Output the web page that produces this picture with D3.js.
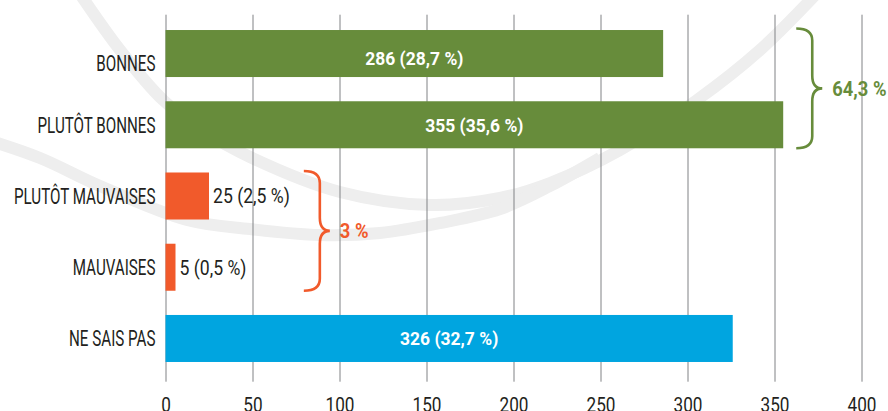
<!DOCTYPE html>
<html lang="fr">
<head>
<meta charset="utf-8">
<script src="https://cdn.jsdelivr.net/npm/d3@7"></script>
<style>
  html, body { margin: 0; padding: 0; background: #fff; }
  svg { display: block; font-family: Roboto, "Liberation Sans", sans-serif; }
</style>
</head>
<body>
<div id="chart"></div>
<script>
// data
const categories = ["BONNES", "PLUTÔT BONNES", "PLUTÔT MAUVAISES", "MAUVAISES", "NE SAIS PAS"];
const counts = [286, 355, 25, 5, 326];
const shares = ["28,7", "35,6", "2,5", "0,5", "32,7"];
const tones = ["positive", "positive", "negative", "negative", "neutral"];
const xTicks = [0, 50, 100, 150, 200, 250, 300, 350, 400];
const groupLabels = ["64,3 %", "3 %"];
const groupTones = ["positive", "negative"];
const groupMembers = [["BONNES", "PLUTÔT BONNES"], ["PLUTÔT MAUVAISES", "MAUVAISES"]];

const W = 888, H = 411;
const colors = { positive: "#678c3b", negative: "#f15a2b", neutral: "#00a5e0" };
const ink = "#231f20";
// the source squeezes its type horizontally (condensed face)
const squeezeLetters = 0.69, squeezeNumbers = 0.86, squeezeBold = 0.92;
// where each brace sits, in data units
const braceAt = { "64,3 %": 362.5, "3 %": 79.5 };
// the BONNES row label sits a little low in the source
const nudge = { "BONNES": { label: 10, value: 5 } };

const rows = categories.map((c, i) => ({ cat: c, count: counts[i], share: shares[i], tone: tones[i] }));

const svg = d3.select("#chart").append("svg")
  .attr("width", W)
  .attr("height", H);

// background watermark arcs
const arcB = [[76, -12], [120, 50], [163, 100], [205, 132], [250, 157], [340, 192], [430, 205],
  [500, 198], [550, 183], [620, 150], [697, 100], [760, 50], [818, -8]];
const arcA = [[-12, 140], [40, 158], [100, 186], [187, 220], [250, 229], [320, 235], [380, 233],
  [440, 223], [500, 209], [550, 186], [600, 158]];
const wm = d3.line().curve(d3.curveCatmullRom.alpha(0.5));
[arcB, arcA].forEach((pts) => {
  svg.append("path")
    .attr("d", wm(pts))
    .attr("fill", "none")
    .attr("stroke", "#eeeeee")
    .attr("stroke-width", 12);
});

const x = d3.scaleLinear().domain([0, 400]).range([165.5, 861.5]);
const y = d3.scaleBand().domain(categories).range([5.8, 386.2]).padding(0.34);

const gridTop = 14.7, gridBottom = 381.7;

// grid + tick labels
const axis = svg.append("g")
  .attr("transform", `translate(0,${gridBottom})`)
  .call(d3.axisBottom(x).tickValues(xTicks).tickSize(-(gridBottom - gridTop)).tickPadding(16.5));
axis.select(".domain").remove();
axis.selectAll(".tick line").attr("stroke", "#808285").attr("stroke-width", 1);
axis.selectAll(".tick text")
  .attr("font-family", "Roboto, sans-serif")
  .attr("font-size", 20)
  .attr("fill", ink)
  .attr("transform", `scale(${squeezeNumbers},1)`);

// bars
svg.selectAll(".bar")
  .data(rows)
  .enter()
  .append("rect")
  .attr("class", "bar")
  .attr("x", x(0))
  .attr("y", (d) => y(d.cat))
  .attr("width", (d) => Math.max(x(d.count) - x(0), 10))
  .attr("height", y.bandwidth())
  .attr("fill", (d) => colors[d.tone]);

// category labels
svg.selectAll(".cat-label")
  .data(rows)
  .enter()
  .append("text")
  .attr("class", "cat-label")
  .attr("transform", (d) => {
    const cy = y(d.cat) + y.bandwidth() / 2 + ((nudge[d.cat] || {}).label || 0);
    return `translate(${x(0) - 10},${cy}) scale(${squeezeLetters},1)`;
  })
  .attr("dy", "0.355em")
  .attr("text-anchor", "end")
  .attr("font-size", 22)
  .attr("fill", ink)
  .text((d) => d.cat);

// value labels
svg.selectAll(".value-label")
  .data(rows)
  .enter()
  .append("text")
  .attr("class", "value-label")
  .each(function (d) {
    const inside = d.count > 100;
    const cy = y(d.cat) + y.bandwidth() / 2 + ((nudge[d.cat] || {}).value || 0);
    const barEnd = x(0) + Math.max(x(d.count) - x(0), 10);
    const sel = d3.select(this)
      .attr("dy", "0.355em")
      .text(`${d.count} (${d.share} %)`);
    if (inside) {
      sel.attr("transform", `translate(${(x(0) + barEnd) / 2},${cy}) scale(${squeezeBold},1)`)
        .attr("text-anchor", "middle")
        .attr("font-size", 19)
        .attr("font-weight", 700)
        .attr("fill", "#fff");
    } else {
      sel.attr("transform", `translate(${barEnd + 4},${cy}) scale(${squeezeNumbers},1)`)
        .attr("text-anchor", "start")
        .attr("font-size", 20.5)
        .attr("fill", ink);
    }
  });

// braces with group totals
function bracePath(x0, top, bottom) {
  const stem = x0 + 16, tip = x0 + 26, mid = (top + bottom) / 2, r = 12, r2 = 13;
  return `M${x0},${top} Q${stem},${top} ${stem},${top + r}` +
    ` L${stem},${mid - r2} Q${stem},${mid} ${tip},${mid}` +
    ` Q${stem},${mid} ${stem},${mid + r2}` +
    ` L${stem},${bottom - r} Q${stem},${bottom} ${x0},${bottom}`;
}

groupLabels.forEach((label, i) => {
  const members = groupMembers[i];
  const top = y(members[0]) - 1.5;
  const bottom = y(members[members.length - 1]) + y.bandwidth();
  const x0 = x(braceAt[label]);
  const col = colors[groupTones[i]];
  svg.append("path")
    .attr("d", bracePath(x0, top, bottom))
    .attr("fill", "none")
    .attr("stroke", col)
    .attr("stroke-width", 2.6);
  svg.append("text")
    .attr("transform", `translate(${x0 + 36},${(top + bottom) / 2}) scale(${squeezeBold},1)`)
    .attr("dy", "0.355em")
    .attr("font-size", 20)
    .attr("font-weight", 700)
    .attr("fill", col)
    .text(label);
});
</script>
</body>
</html>
